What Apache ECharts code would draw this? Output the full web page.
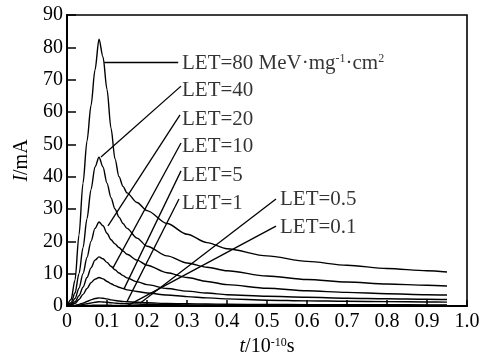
<!DOCTYPE html>
<html>
<head>
<meta charset="utf-8">
<script src="https://cdn.jsdelivr.net/npm/echarts@6/dist/echarts.min.js"></script>
<style>html,body{margin:0;padding:0;background:#fff;}#c{width:486px;height:357px;}</style>
</head>
<body>
<div id="c"></div>
<script>
// time axis (10^-10 s)
var T = [0, 0.01, 0.02, 0.03, 0.04, 0.05, 0.06, 0.07, 0.08, 0.09, 0.1, 0.11, 0.12, 0.13, 0.14, 0.15, 0.175, 0.2, 0.25, 0.3, 0.35, 0.4, 0.5, 0.6, 0.7, 0.8, 0.9, 0.95];
// current (mA) for each LET
var LET80 = [0, 2, 8, 22, 38, 51, 62, 73, 82.5, 77, 67, 55, 45.5, 40, 37, 35, 32, 29.5, 25.5, 22.2, 19.6, 17.7, 15.5, 13.8, 12.6, 11.6, 10.9, 10.5];
var LET40 = [0, 1, 4, 10, 18, 27, 36, 43, 46, 43, 38, 33.5, 30, 27.5, 25.5, 24, 21, 18.5, 15.5, 13.3, 12, 10.9, 9.3, 8.2, 7.4, 6.8, 6.4, 6.2];
var LET20 = [0, 0.6, 2.3, 5.5, 10, 15, 20, 24, 26, 24.8, 22.5, 20.5, 19.2, 18.1, 17, 16, 14.2, 12.6, 10.3, 8.8, 7.6, 6.6, 5.5, 4.7, 4.2, 3.8, 3.5, 3.4];
var LET10 = [0, 0.3, 1.3, 3.2, 5.8, 8.8, 11.8, 14.2, 15.2, 14.6, 13.5, 12.3, 11.2, 10.2, 9.4, 8.7, 7.5, 6.6, 5.4, 4.6, 4, 3.5, 3, 2.7, 2.4, 2.25, 2.1, 2];
var LET5  = [0, 0.2, 0.8, 2, 3.6, 5.4, 7.2, 8.3, 8.8, 8.4, 7.6, 6.9, 6.3, 5.8, 5.4, 5, 4.5, 4, 3.4, 2.9, 2.5, 2.2, 1.8, 1.6, 1.45, 1.35, 1.25, 1.2];
var LET1  = [0, 0.05, 0.2, 0.5, 0.9, 1.4, 1.9, 2.3, 2.5, 2.4, 2.2, 1.9, 1.7, 1.55, 1.4, 1.3, 1.15, 1, 0.8, 0.7, 0.6, 0.55, 0.48, 0.43, 0.4, 0.38, 0.36, 0.35];
var LET05 = [0, 0.03, 0.1, 0.25, 0.45, 0.7, 0.95, 1.15, 1.3, 1.25, 1.15, 1, 0.9, 0.8, 0.75, 0.7, 0.6, 0.52, 0.42, 0.36, 0.32, 0.29, 0.25, 0.22, 0.2, 0.19, 0.18, 0.18];
var LET01 = [0, 0.01, 0.03, 0.06, 0.1, 0.15, 0.2, 0.24, 0.27, 0.26, 0.24, 0.21, 0.19, 0.17, 0.16, 0.15, 0.13, 0.11, 0.09, 0.08, 0.07, 0.06, 0.05, 0.045, 0.04, 0.04, 0.04, 0.04];
var curves = [LET80, LET40, LET20, LET10, LET5, LET1, LET05, LET01];

// tick labels
var xTickLabels = ['0', '0.1', '0.2', '0.3', '0.4', '0.5', '0.6', '0.7', '0.8', '0.9', '1.0'];
var yTickLabels = ['0', '10', '20', '30', '40', '50', '60', '70', '80', '90'];

// annotation texts, their anchor (data coords) and leader-line ends
var annTexts = ['{a|LET=80 MeV·mg}{s|-1}{a|·cm}{s|2}', '{a|LET=40}', '{a|LET=20}', '{a|LET=10}', '{a|LET=5}', '{a|LET=1}', '{a|LET=0.5}', '{a|LET=0.1}'];
var annAnchor = [[0.285, 75.1], [0.285, 66.8], [0.285, 57.8], [0.285, 49.2], [0.285, 40.5], [0.285, 31.8], [0.53, 32.8], [0.53, 24.4]];
var leaderEnd = [[0.278, 75.5], [0.285, 68], [0.2825, 59.1], [0.285, 50.4], [0.285, 41.8], [0.28, 33.1], [0.5225, 33.1], [0.5225, 24.7]];
var leaderStart = [[0.093, 75.5], [0.085, 46.1], [0.1025, 24.8], [0.115, 11.8], [0.1425, 5.3], [0.15, 1.35], [0.1825, 0.85], [0.1525, 0.2]];

var FONT = '"Liberation Serif", "Times New Roman", serif';
var FS = 20;
var richAnn = {
  a: {fontFamily: FONT, fontSize: 21, color: '#000'},
  s: {fontFamily: FONT, fontSize: 12, color: '#000', verticalAlign: 'top', padding: [0, 0, 8, 0]}
};
var rich = {
  a: {fontFamily: FONT, fontSize: FS, color: '#000'},
  s: {fontFamily: FONT, fontSize: 12, color: '#000', verticalAlign: 'top', padding: [0, 0, 8, 0]},
  i: {fontFamily: FONT, fontSize: FS, color: '#000', fontStyle: 'italic'}
};

var series = curves.map(function (vals) {
  return {
    type: 'line', data: T.map(function (t, i) { return [t, vals[i]]; }),
    showSymbol: false, smooth: 0.3, smoothMonotone: 'x',
    lineStyle: {color: '#000', width: 1.4}, silent: true, z: 3
  };
});
series.push({
  type: 'lines', coordinateSystem: 'cartesian2d', silent: true, z: 4,
  lineStyle: {color: '#000', width: 1.3, opacity: 1},
  data: leaderStart.map(function (s, i) { return {coords: [s, leaderEnd[i]]}; })
});
series.push({
  type: 'scatter', symbolSize: 0, silent: true, z: 5,
  data: annAnchor.map(function (p, i) {
    return {value: p, label: {show: true, position: 'right', distance: 1,
      formatter: annTexts[i], rich: richAnn}};
  })
});

var chart = echarts.init(document.getElementById('c'));
chart.setOption({
  animation: false,
  backgroundColor: '#fff',
  grid: {left: 67, right: 19, top: 15, bottom: 51, containLabel: false, outerBoundsMode: 'none',
    show: true, borderColor: '#000', borderWidth: 1.6, backgroundColor: 'transparent'},
  xAxis: {
    type: 'value', min: 0, max: 1, interval: 0.1,
    axisLine: {lineStyle: {color: '#000', width: 2}},
    axisTick: {inside: true, length: 6, lineStyle: {color: '#000', width: 1.5}},
    splitLine: {show: false},
    axisLabel: {color: '#000', fontFamily: FONT, fontSize: FS, margin: 6,
      formatter: function (v) { return xTickLabels[Math.round(v * 10)]; }},
    name: '{i|t}{a|/10}{s|-10}{a|s}', nameLocation: 'middle', nameGap: 28,
    nameTextStyle: {rich: rich}
  },
  yAxis: {
    type: 'value', min: 0, max: 90, interval: 10,
    axisLine: {lineStyle: {color: '#000', width: 2}},
    axisTick: {inside: true, length: 9, lineStyle: {color: '#000', width: 1.5}},
    splitLine: {show: false},
    axisLabel: {color: '#000', fontFamily: FONT, fontSize: FS, margin: 4,
      formatter: function (v) { return yTickLabels[Math.round(v / 10)]; }},
    name: '{i|I}{a|/mA}', nameLocation: 'middle', nameGap: 35,
    nameTextStyle: {rich: rich}
  },
  series: series
});
</script>
</body>
</html>
